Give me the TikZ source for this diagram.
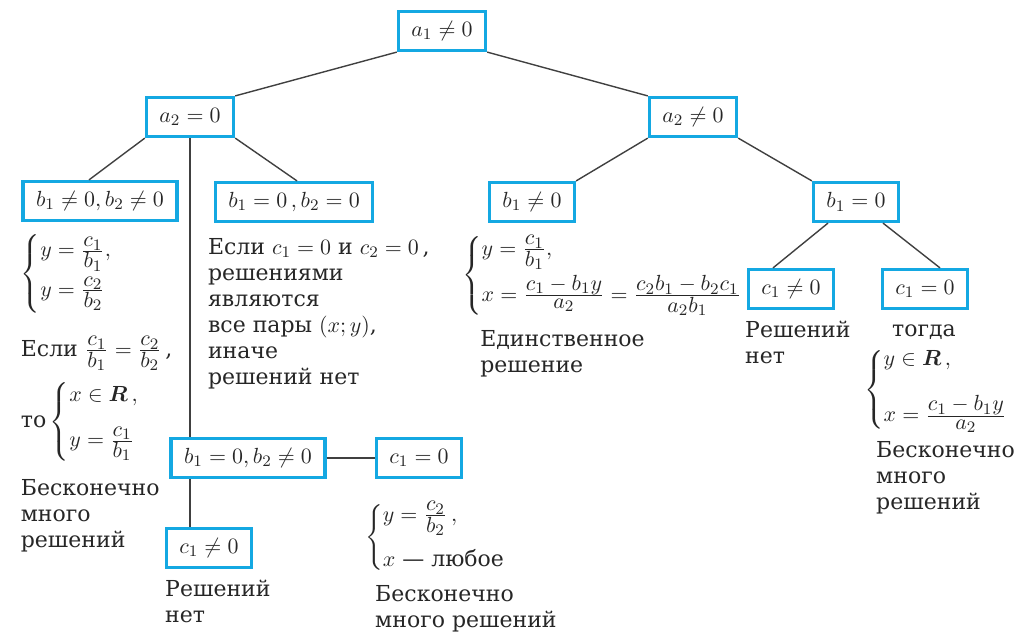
\documentclass[tikz,border=0pt]{standalone}
\usepackage{amsmath}
\usepackage{fontspec}
\setmainfont{DejaVu Serif}
\usetikzlibrary{positioning}
\definecolor{frameblue}{RGB}{20,168,226}
\newcommand{\fr}[2]{\frac{\textstyle #1}{\textstyle #2}}
\newcommand{\sys}[1]{\left\{\begin{array}{@{}l@{}}#1\end{array}\right.}
\tikzset{cond/.style={draw=frameblue,line width=1.6pt,inner xsep=6.5pt,inner ysep=3pt,minimum height=19.5pt},note/.style={inner sep=0pt,align=left,anchor=north west},link/.style={draw=black!75,line width=0.7pt}}

\begin{document}
\begin{tikzpicture}[x=0.5pt,y=-0.5pt,on grid,font=\fontsize{11}{13}\selectfont,text=black!85]
\useasboundingbox (0,0) rectangle (1023,633);
\node[cond] (top) at (442,31) {$a_1\ne 0$};
\node[cond,below left=43pt and 126pt of top] (a2z) {$a_2=0$};
\node[cond,below right=43pt and 125.5pt of top] (a2n) {$a_2\ne 0$};
\node[cond,below left=42pt and 45pt of a2z] (bnn) {$b_1\ne 0, b_2\ne 0$};
\node[cond,below right=42.5pt and 52pt of a2z] (bzz) {$b_1=0\,, b_2=0$};
\node[cond,below right=170.5pt and 29pt of a2z] (bzn) {$b_1=0, b_2\ne 0$};
\node[cond,right=85.5pt of bzn] (czlow) {$c_1=0$};
\node[cond,below left=45pt and 19.5pt of bzn] (cnlow) {$c_1\ne 0$};
\node[cond,below left=42.5pt and 80.5pt of a2n] (b1n) {$b_1\ne 0$};
\node[cond,below right=42.5pt and 81.5pt of a2n] (b1z) {$b_1=0$};
\node[cond,below left=43.5pt and 32.5pt of b1z] (c1n) {$c_1\ne 0$};
\node[cond,below right=43.5pt and 34.5pt of b1z] (c1z) {$c_1=0$};
\node[below right=6pt and -0.5pt of bnn.south west,note] (sysA) {$\sys{y=\fr{c_1}{b_1},\\[6pt] y=\fr{c_2}{b_2}}$};
\node[below right=57pt and -0.5pt of bnn.south west,note] (ifA) {Если $\fr{c_1}{b_1}=\fr{c_2}{b_2}$\,,};
\node[below right=80pt and -0.5pt of bnn.south west,note] (thenA) {то\,$\sys{x\in\boldsymbol{R}\,,\\[9pt] y=\fr{c_1}{b_1}}$};
\node[below right=128.5pt and -0.5pt of bnn.south west,note] (infA) {Бесконечно\\много\\решений};
\node[below right=7.5pt and -3pt of bzz.south west,note] (midtext) {Если $c_1=0$ и $c_2=0$\,,\\решениями\\являются\\все пары $(x;y)$,\\иначе\\решений нет};
\node[below right=6pt and -13pt of b1n.south west,note] (sysB) {$\sys{y=\fr{c_1}{b_1},\\[6pt] x=\fr{c_1-b_1y}{a_2}=\fr{c_2b_1-b_2c_1}{a_2b_1}}$};
\node[below right=53.5pt and -4pt of b1n.south west,note] (uniqB) {Единственное\\решение};
\node[below right=5.5pt and -1pt of c1n.south west,note] (noneC) {Решений\\нет};
\node[below right=7pt and 5.5pt of c1z.south west,note] (thenC) {тогда};
\node[below right=18.5pt and -8.5pt of c1z.south west,note] (sysC) {$\sys{y\in\boldsymbol{R}\,,\\[11pt] x=\fr{c_1-b_1y}{a_2}}$};
\node[below right=65.5pt and -2.5pt of c1z.south west,note] (infC) {Бесконечно\\много\\решений};
\node[below right=5.5pt and 0pt of cnlow.south west,note] (noneD) {Решений\\нет};
\node[below right=11pt and -5pt of czlow.south west,note] (sysD) {$\sys{y=\fr{c_2}{b_2}\,,\\[9.5pt] x\mbox{ — любое}}$};
\node[below right=53pt and 0pt of czlow.south west,note] (infD) {Бесконечно\\много решений};
\draw[link] (top.south west) -- (a2z.north east);\draw[link] (top.south east) -- (a2n.north west);
\draw[link] (a2z.south west) -- ([xshift=-5.5pt]bnn.north);\draw[link] (a2z.south east) -- ([xshift=1.5pt]bzz.north);
\draw[link] (a2z.south) -- (a2z.south |- bzn.north);\draw[link] (a2z.south |- bzn.south) -- (a2z.south |- cnlow.north);
\draw[link] (bzn.east) -- (czlow.west);
\draw[link] (a2n.south west) -- (b1n.north east);\draw[link] (a2n.south east) -- (b1z.north west);
\draw[link] ([xshift=-14pt]b1z.south) -- ([xshift=-9pt]c1n.north);\draw[link] ([xshift=13.5pt]b1z.south) -- ([xshift=7.5pt]c1z.north);
\end{tikzpicture}
\end{document}
